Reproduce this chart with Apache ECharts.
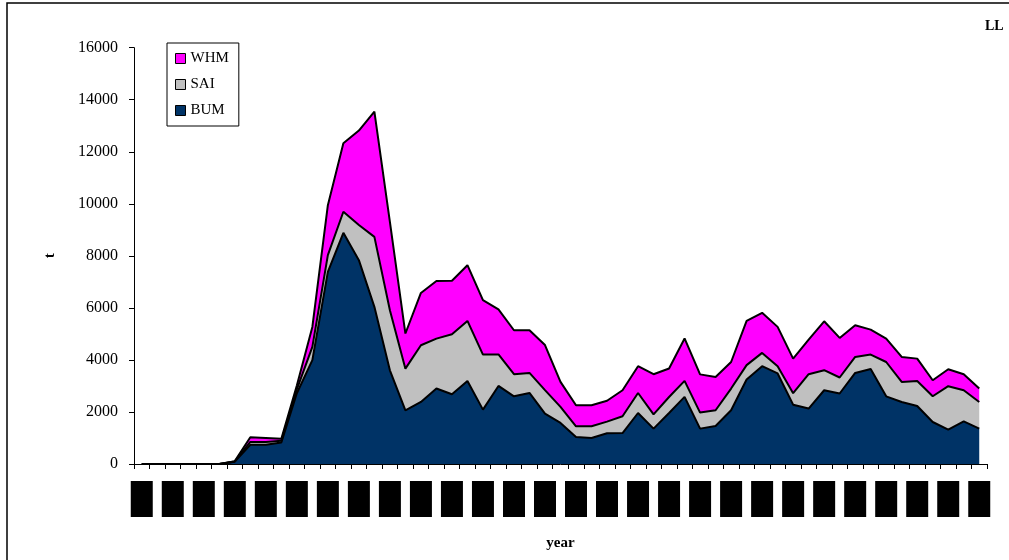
<!DOCTYPE html>
<html>
<head>
<meta charset="utf-8">
<script src="https://cdn.jsdelivr.net/npm/echarts@6/dist/echarts.min.js"></script>
<style>
  html, body { margin: 0; padding: 0; background: #fff; }
  #chart { width: 1009px; height: 560px; }
</style>
</head>
<body>
<div id="chart"></div>
<script>
// Years (x categories)
const years = [];
for (let y = 1950; y <= 2004; y++) years.push(String(y));

// Catches (t) by species
const BUM = [0,0,0,0,0,0,90,740,740,830,2720,3990,7385,8885,7834,6040,3600,2065,2385,2900,
             2680,3190,2090,3000,2600,2730,1940,1580,1040,1000,1180,1190,1960,1360,1960,2580,1360,1460,2065,3250,
             3760,3480,2280,2130,2835,2710,3500,3650,2600,2385,2230,1615,1320,1640,1360];
const SAI = [0,0,0,0,0,0,10,110,110,60,150,510,640,810,1350,2690,2310,1600,2180,1920,
             2310,2310,2115,1210,850,770,900,615,410,450,450,645,770,550,615,615,615,605,835,550,
             510,280,440,1320,770,615,615,555,1320,770,960,990,1670,1195,1025];
const WHM = [0,0,0,0,0,0,10,180,150,80,150,770,1920,2630,3630,4810,3400,1350,2010,2215,
             2050,2140,2090,1730,1690,1640,1730,960,810,810,800,1000,1030,1540,1095,1630,1470,1280,1020,1700,
             1540,1510,1330,1330,1880,1520,1220,960,900,960,860,615,650,615,515];

const yTicks = { min: 0, max: 16000, interval: 2000 };

const colors = { WHM: '#FF00FF', SAI: '#C0C0C0', BUM: '#003366' };
const serif = 'Liberation Serif, Times New Roman, serif';

function areaSeries(name, data) {
  return {
    name: name,
    type: 'line',
    stack: 'total',
    data: data,
    showSymbol: false,
    symbol: 'none',
    itemStyle: { color: colors[name] },
    lineStyle: { color: '#000', width: 2 },
    areaStyle: { color: colors[name], opacity: 1 },
    emphasis: { disabled: true },
    animation: false
  };
}

const chart = echarts.init(document.getElementById('chart'), null, { renderer: 'canvas' });
chart.setOption({
  animation: false,
  backgroundColor: '#fff',
  graphic: [
    { type: 'polyline', shape: { points: [[7, 560], [7, 3], [1009, 3]] },
      style: { fill: 'none', stroke: '#000', lineWidth: 1.5 }, z: 100 },
    { type: 'text', left: 985, top: 19,
      style: { text: 'LL', fill: '#000', font: 'bold 14px ' + serif }, z: 100 }
  ],
  grid: { left: 134, right: 22, top: 47.7, bottom: 96, containLabel: false },
  legend: {
    orient: 'vertical',
    left: 167, top: 43,
    padding: [8, 10, 8, 8],
    itemGap: 11,
    itemWidth: 10, itemHeight: 10,
    icon: 'rect',
    borderColor: '#000', borderWidth: 1,
    backgroundColor: '#fff',
    textStyle: { fontFamily: serif, fontSize: 15, color: '#000' },
    data: ['WHM', 'SAI', 'BUM'].map(n => ({
      name: n,
      itemStyle: { color: colors[n], borderColor: '#000', borderWidth: 1 }
    }))
  },
  xAxis: {
    type: 'category',
    data: years,
    boundaryGap: true,
    name: 'year',
    nameLocation: 'middle',
    nameGap: 72,
    nameTextStyle: { fontFamily: serif, fontWeight: 'bold', fontSize: 15, color: '#000' },
    axisLine: { lineStyle: { color: '#000', width: 1 } },
    axisTick: { show: true, interval: 0, length: 5, lineStyle: { color: '#000' } },
    axisLabel: {
      interval: 1,
      rotate: 90,
      margin: 17,
      color: '#000',
      backgroundColor: '#000',
      fontFamily: serif,
      fontSize: 14,
      lineHeight: 16,
      padding: [3, 4, 3, 4]
    },
    splitLine: { show: false }
  },
  yAxis: {
    type: 'value',
    min: yTicks.min, max: yTicks.max, interval: yTicks.interval,
    name: 't',
    nameLocation: 'middle',
    nameGap: 76,
    nameRotate: 90,
    nameTextStyle: { fontFamily: serif, fontWeight: 'bold', fontSize: 15, color: '#000' },
    axisLine: { show: true, lineStyle: { color: '#000', width: 1 } },
    axisTick: { show: true, length: 5, lineStyle: { color: '#000' } },
    axisLabel: { margin: 16, color: '#000', fontFamily: serif, fontSize: 16,
                 formatter: v => String(v) },
    splitLine: { show: false }
  },
  series: [
    areaSeries('BUM', BUM),
    areaSeries('SAI', SAI),
    areaSeries('WHM', WHM)
  ]
});
</script>
</body>
</html>
